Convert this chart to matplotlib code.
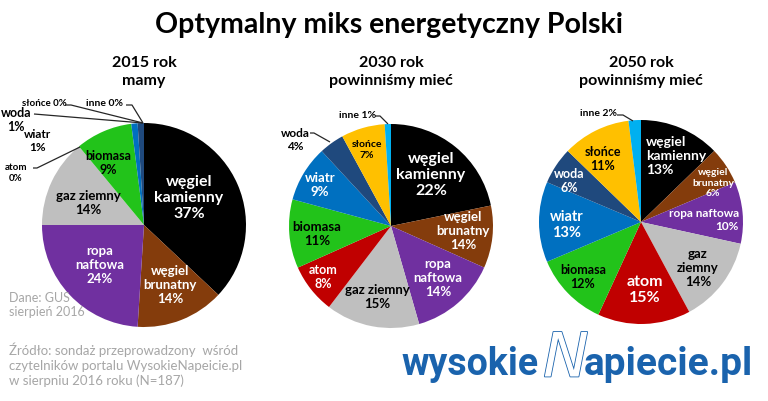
import matplotlib
matplotlib.use('Agg')
import matplotlib.pyplot as plt
import matplotlib.patheffects as pe

plt.rcParams['font.family'] = ['Lato', 'DejaVu Sans']

W, H = 768, 401

# ---------------- data ----------------
sources = ['węgiel kamienny', 'węgiel brunatny', 'ropa naftowa', 'gaz ziemny', 'atom',
           'biomasa', 'wiatr', 'woda', 'słońce', 'inne']
colors = ['#000000', '#843C0C', '#7030A0', '#BFBFBF', '#C00000',
          '#22C31A', '#0070C0', '#1F497D', '#FFC000', '#00B0F0']

pct_2015 = [37, 14, 24, 14, 0, 9, 1, 1, 0, 0]
pct_2030 = [22, 14, 14, 15, 8, 11, 9, 4, 7, 1]      # printed percentages
size_2030 = [22, 10, 14, 15, 8, 11, 9, 4, 7, 1]     # slice sizes as drawn
pct_2050 = [13, 6, 10, 14, 15, 12, 13, 6, 11, 2]

titles = ['2015 rok\nmamy', '2030 rok\npowinniśmy mieć', '2050 rok\npowinniśmy mieć']
main_title = 'Optymalny miks energetyczny Polski'
note_data = 'Dane: GUS\nsierpień 2016'
note_source = ('Źródło: sondaż przeprowadzony  wśród\n'
               'czytelników portalu WysokieNapeicie.pl\n'
               'w sierpniu 2016 roku (N=187)')

# ---------------- layout (pixel coords, y from top) ----------------
pies = [
    dict(sizes=pct_2015, pcts=pct_2015, center=(144, 225), r=102, title_x=144,
         labels=[  # idx, x, y, fontsize, color, ha, mode
             (0, 189, 198, 11.5, 'white', 'center', 'split'),
             (1, 170, 285, 9.5, 'white', 'center', 'split'),
             (2, 100, 265, 9.5, 'white', 'center', 'split'),
             (3, 88, 203, 9.5, 'black', 'center', 'one'),
             (5, 108, 163, 9, 'black', 'center', 'one'),
             (4, 16, 173, 7, 'black', 'center', 'one'),
             (6, 38, 141, 8.5, 'black', 'center', 'one'),
             (7, 16, 120, 9, 'black', 'center', 'one'),
             (8, 44, 104, 7, 'black', 'center', 'inline'),
             (9, 105, 104, 7.5, 'black', 'center', 'inline'),
         ],
         leaders=[[(33, 168), (37, 168), (80, 147)],
                  [(34, 114), (143, 123)],
                  [(65, 105), (71, 105), (143, 123)],
                  [(126, 105), (132, 105), (143, 123)]]),
    dict(sizes=size_2030, pcts=pct_2030, center=(391, 226), r=102, title_x=391,
         labels=[
             (0, 431, 175, 11.5, 'white', 'center', 'split'),
             (1, 463, 231, 9.5, 'white', 'center', 'split'),
             (2, 438, 278, 9.5, 'white', 'center', 'split'),
             (3, 377, 297, 9.5, 'black', 'center', 'one'),
             (4, 323, 277, 9, 'white', 'center', 'one'),
             (5, 317, 234, 9.5, 'black', 'center', 'one'),
             (6, 320, 185, 9.5, 'white', 'center', 'one'),
             (7, 295, 140, 8.5, 'black', 'center', 'one'),
             (8, 367, 150, 7.5, 'black', 'center', 'one'),
             (9, 358, 116, 7.5, 'black', 'center', 'inline'),
         ],
         leaders=[[(310, 133), (314, 133), (330, 142)],
                  [(375, 116), (380, 116), (388, 124)]]),
    dict(sizes=pct_2050, pcts=pct_2050, center=(641, 222), r=102, title_x=641,
         labels=[
             (0, 646, 156, 10, 'white', 'left', 'split'),
             (1, 713, 183, 7.5, 'white', 'center', 'split'),
             (2, 739, 220, 8.5, 'white', 'right', 'one'),
             (3, 698, 268, 9.5, 'black', 'center', 'split'),
             (4, 645, 290, 11.5, 'white', 'center', 'one'),
             (5, 583, 277, 9, 'black', 'center', 'one'),
             (6, 567, 225, 10.5, 'white', 'center', 'one'),
             (7, 569, 181, 9, 'white', 'center', 'one'),
             (8, 603, 159, 9, 'black', 'center', 'one'),
             (9, 598, 113, 7.5, 'black', 'center', 'inline'),
         ],
         leaders=[[(617, 115), (623, 115), (633, 121)]]),
]

fig = plt.figure(figsize=(W / 100, H / 100), dpi=100)
ax = fig.add_axes([0, 0, 1, 1])


def Y(py):
    return H - py


def label_text(idx, pct, mode):
    name = sources[idx]
    if mode == 'split':
        return '\n'.join(name.split()) + f'\n{pct}%'
    if mode == 'one':
        return f'{name}\n{pct}%'
    return f'{name} {pct}%'


for p in pies:
    cx, cy = p['center']
    ax.pie(p['sizes'], colors=colors, startangle=90, counterclock=False,
           center=(cx, Y(cy)), radius=p['r'],
           wedgeprops=dict(linewidth=0))
    for (idx, x, y, fs, col, ha, mode) in p['labels']:
        ax.text(x, Y(y), label_text(idx, p['pcts'][idx], mode), color=col,
                fontsize=fs, fontweight='bold', ha=ha, va='center',
                linespacing=1.2)
    for pts in p['leaders']:
        xs = [q[0] for q in pts]
        ys = [Y(q[1]) for q in pts]
        ax.plot(xs, ys, color='#262626', lw=0.9, solid_capstyle='butt')

for p, t in zip(pies, titles):
    ax.text(p['title_x'], Y(72), t, fontsize=11.5, fontweight='bold',
            ha='center', va='center', linespacing=1.3)

ax.text(W / 2 + 5, Y(25), main_title, fontsize=20.5, fontweight='bold',
        ha='center', va='center')

ax.text(9, Y(305), note_data, fontsize=9, color='#A6A6A6',
        ha='left', va='center', linespacing=1.3)
ax.text(9, Y(365), note_source, fontsize=9.5, color='#A6A6A6',
        ha='left', va='center', linespacing=1.25)

# logo
blue = '#1A63AD'
ax.text(539, Y(375), 'wysokie', fontsize=27, fontweight='bold', color=blue,
        family=['Roboto', 'DejaVu Sans'], ha='right', va='baseline')
ax.text(584, Y(375), 'apiecie.pl', fontsize=28, fontweight='bold', color=blue,
        family=['Roboto', 'DejaVu Sans'], ha='left', va='baseline')
ax.text(566, Y(360), 'N', fontsize=44, fontstyle='italic', fontweight='light',
        color='white', family=['DejaVu Sans'], ha='center', va='center',
        path_effects=[pe.withStroke(linewidth=1.2, foreground=blue)])

ax.set_xlim(0, W)
ax.set_ylim(0, H)
ax.set_aspect('auto')
ax.axis('off')

fig.savefig('out.png', dpi=100)
